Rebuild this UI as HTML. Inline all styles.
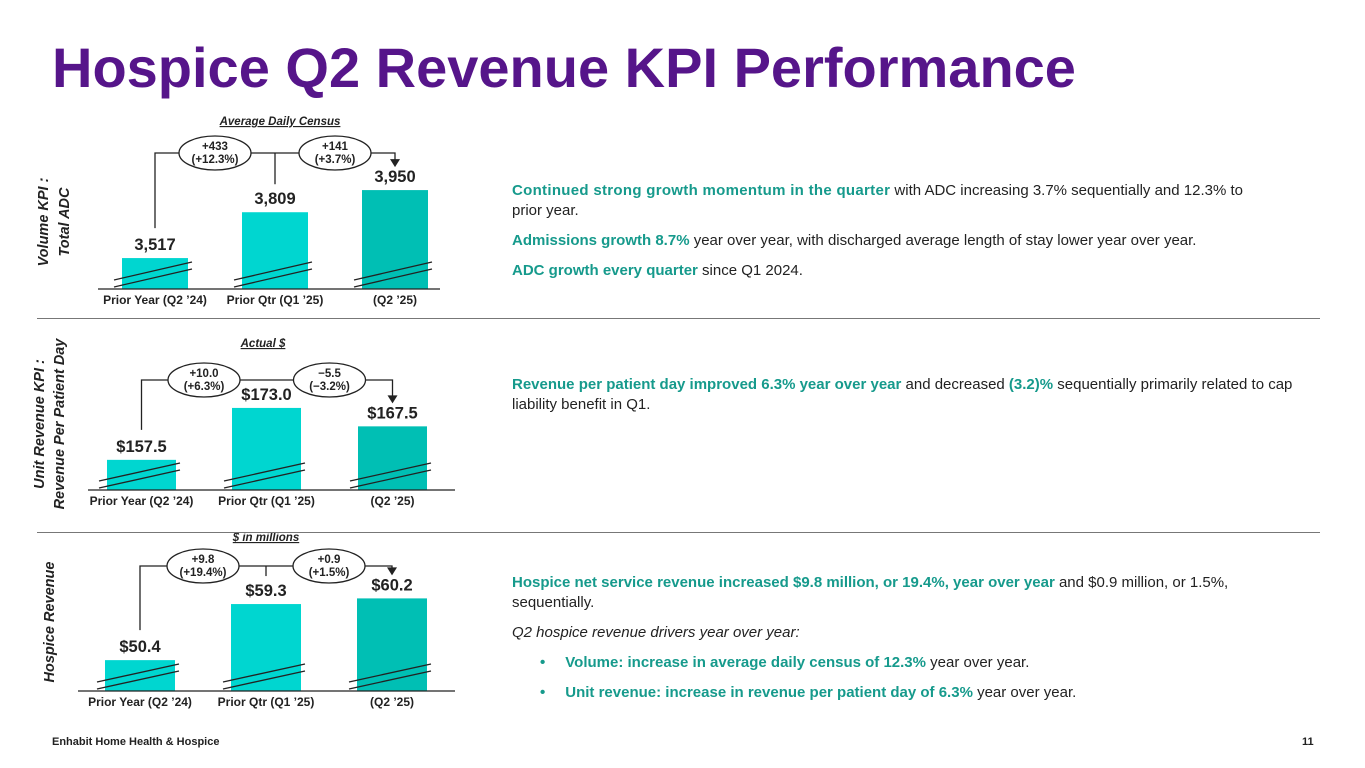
<!DOCTYPE html>
<html><head><meta charset="utf-8"><style>
body{margin:0;width:1365px;height:768px;background:#fff;font-family:"Liberation Sans",sans-serif;position:relative;overflow:hidden}
.t{position:absolute;left:52px;top:40px;font-size:56px;font-weight:bold;color:#56158a;margin:0;line-height:1}
.txt{position:absolute;left:512px;width:800px;font-size:15px;color:#222;line-height:20px}
.txt p{margin:0 0 10px 0}
.g{color:#169a8c;font-weight:bold}
.sep{position:absolute;left:37px;width:1283px;height:1px;background:#777}
.foot{position:absolute;top:736px;font-size:11px;font-weight:bold;color:#222}
ul{margin:0;padding-left:28px;list-style:none}
li{margin:0 0 10px 0}
li:before{content:"•";color:#169a8c;font-weight:bold;margin-right:20px}
</style></head><body>
<h1 class="t">Hospice Q2 Revenue KPI Performance</h1>
<svg id="ch" width="1365" height="768" style="position:absolute;left:0;top:0"></svg>
<div class="txt" style="top:181px">
<p><span class="g" style="letter-spacing:0.3px">Continued strong growth momentum in the quarter</span> with ADC increasing 3.7% sequentially and 12.3% to<br>prior year.</p>
<p><span class="g">Admissions growth 8.7%</span> year over year, with discharged average length of stay lower year over year.</p>
<p><span class="g">ADC growth every quarter</span> since Q1 2024.</p></div>
<div class="txt" style="top:375px">
<p><span class="g">Revenue per patient day improved 6.3% year over year</span> and decreased <span class="g">(3.2)%</span> sequentially primarily related to cap liability benefit in Q1.</p></div>
<div class="txt" style="top:573px">
<p><span class="g">Hospice net service revenue increased $9.8 million, or 19.4%, year over year</span> and $0.9 million, or 1.5%,<br>sequentially.</p>
<p><i>Q2 hospice revenue drivers year over year:</i></p>
<ul><li><span class="g">Volume: increase in average daily census of 12.3%</span> year over year.</li>
<li><span class="g">Unit revenue: increase in revenue per patient day of 6.3%</span> year over year.</li></ul></div>
<div class="sep" style="top:318px"></div>
<div class="sep" style="top:532px"></div>
<div class="foot" style="left:52px">Enhabit Home Health &amp; Hospice</div>
<div class="foot" style="left:1302px">11</div>
<script>
const categories=["Prior Year (Q2 ’24)","Prior Qtr (Q1 ’25)","(Q2 ’25)"];
const adcValues=[3517,3809,3950];
const adcLabels=["3,517","3,809","3,950"];
const adcChanges=[["+433","(+12.3%)"],["+141","(+3.7%)"]];
const rppdValues=[157.5,173.0,167.5];
const rppdLabels=["$157.5","$173.0","$167.5"];
const rppdChanges=[["+10.0","(+6.3%)"],["−5.5","(−3.2%)"]];
const revValues=[50.4,59.3,60.2];
const revLabels=["$50.4","$59.3","$60.2"];
const revChanges=[["+9.8","(+19.4%)"],["+0.9","(+1.5%)"]];
const NS="http://www.w3.org/2000/svg";
const svg=document.getElementById('ch');
function mk(t,a,p){const e=document.createElementNS(NS,t);for(const k in a)e.setAttribute(k,a[k]);(p||svg).appendChild(e);return e;}
const panels=[
{vals:adcValues,labs:adcLabels,chg:adcChanges,base:3320,ppu:0.157,y0:289,xs:[122,242,362],w:66,ax:[98,440],hy:153,title:"Average Daily Census",ty:125,tx:280,yl:["Volume KPI :","Total ADC"],ylx:[48,69],lcy:222,name:"adc"},
{vals:rppdValues,labs:rppdLabels,chg:rppdChanges,base:148.5,ppu:3.35,y0:490,xs:[107,232,358],w:69,ax:[88,455],hy:380,title:"Actual $",ty:347,tx:263,yl:["Unit Revenue KPI :","Revenue Per Patient Day"],ylx:[44,64],lcy:424,name:"rppd"},
{vals:revValues,labs:revLabels,chg:revChanges,base:45.5,ppu:6.3,y0:691,xs:[105,231,357],w:70,ax:[78,455],hy:566,title:"$ in millions",ty:541,tx:266,yl:["Hospice Revenue"],ylx:[54],lcy:622,name:"revenue"}];
panels.forEach(P=>{
 const g=mk('g',{});
 
 
 const yS=v=>P.y0-(v-P.base)*P.ppu;
 const t=mk('text',{x:P.tx,y:P.ty,'text-anchor':'middle','font-size':11.5,'font-weight':'bold','font-style':'italic',fill:'#222','text-decoration':'underline'},g);t.textContent=P.title;
 
 
 P.yl.forEach((s,i)=>{const e=mk('text',{x:P.ylx[i],y:P.lcy,transform:`rotate(-90 ${P.ylx[i]} ${P.lcy})`,'text-anchor':'middle','font-size':14.5,'font-weight':'bold','font-style':'italic',fill:'#222'},g);e.textContent=s;
 
 });
 const tops=[];
 P.vals.forEach((v,i)=>{
  const x=P.xs[i],y=yS(v);tops.push(y);
  const r=mk('rect',{x:x,y:y,width:P.w,height:P.y0-y,fill:i==2?'#00bfb4':'#00d6d0'},g);
  
  
  [0,7].forEach(o=>mk('line',{x1:x-8,y1:P.y0-8-o+6,x2:x+P.w+4,y2:P.y0-26-o+6,stroke:'#222','stroke-width':1.3},g));
  const l=mk('text',{x:x+P.w/2,y:y-8,'text-anchor':'middle','font-size':16.5,'font-weight':'bold',fill:'#222'},g);l.textContent=P.labs[i];
  
  
  const c=mk('text',{x:x+P.w/2,y:P.y0+15,'text-anchor':'middle','font-size':12,'font-weight':'bold',fill:'#222'},g);c.textContent=categories[i];
  
  
 });
 mk('line',{x1:P.ax[0],y1:P.y0,x2:P.ax[1],y2:P.y0,stroke:'#222','stroke-width':1.3},g);
 const cx=P.xs.map(x=>x+P.w/2);
 mk('polyline',{points:`${cx[0]},${tops[0]-30} ${cx[0]},${P.hy} ${cx[2]},${P.hy} ${cx[2]},${tops[2]-30}`,fill:'none',stroke:'#222','stroke-width':1.3},g);
 mk('polygon',{points:`${cx[2]-5},${tops[2]-31} ${cx[2]+5},${tops[2]-31} ${cx[2]},${tops[2]-23}`,fill:'#222'},g);
 mk('line',{x1:cx[1],y1:P.hy,x2:cx[1],y2:tops[1]-28,stroke:'#222','stroke-width':1.3},g);
 P.chg.forEach((c,i)=>{
  const ex=(cx[i]+cx[i+1])/2;
  const e=mk('ellipse',{cx:ex,cy:P.hy,rx:36,ry:17,fill:'#fff',stroke:'#222','stroke-width':1.3},g);
  
  
  c.forEach((s,j)=>{const t2=mk('text',{x:ex,y:P.hy-3+j*13,'text-anchor':'middle','font-size':11.5,'font-weight':'bold',fill:'#222'},g);t2.textContent=s;});
 });
});
</script>
</body></html>
